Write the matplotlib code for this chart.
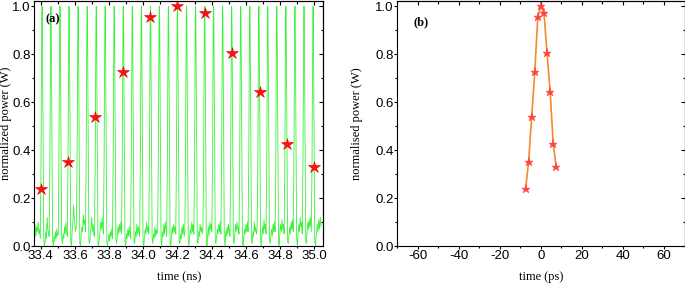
import numpy as np
import matplotlib.pyplot as plt
from matplotlib.ticker import MultipleLocator

plt.rcParams['axes.unicode_minus'] = False

# sampled pulse shape, panel (b): offset from peak (ps) and normalised power
samp_t = [-7.5, -6.0, -4.5, -3.0, -1.5, 0.0, 1.5, 3.0, 4.5, 6.0, 7.5]
samp_p = [0.236, 0.350, 0.540, 0.726, 0.957, 1.0, 0.971, 0.804, 0.643, 0.424, 0.331]

# sampling instants marked with stars in (a) (ns)
star_t = [33.40, 33.56, 33.72, 33.88, 34.04, 34.20, 34.36, 34.52, 34.68, 34.84, 35.00]

# pulse peaks of the train in (a) (ns)
peak_t = [33.408, 33.460, 33.513, 33.566, 33.619, 33.672, 33.725, 33.777,
          33.830, 33.883, 33.936, 33.989, 34.042, 34.094, 34.147, 34.200,
          34.253, 34.306, 34.359, 34.411, 34.464, 34.517, 34.570, 34.623,
          34.676, 34.728, 34.781, 34.834, 34.887, 34.940, 34.993]

# noisy floor between pulses, one list per gap (first = before the first pulse, last = after the last)
floor = [
    [0.05, 0.09, 0.04, 0.08, 0.06, 0.10, 0.05, 0.07, 0.03],
    [0.03, 0.00, 0.02, 0.06, 0.03, 0.12, 0.07, 0.05, 0.04],
    [0.02, 0.00, 0.04, 0.02, 0.06, 0.03, 0.07, 0.04, 0.05],
    [0.03, 0.01, 0.05, 0.03, 0.08, 0.05, 0.10, 0.06, 0.04],
    [0.02, 0.00, 0.06, 0.10, 0.17, 0.12, 0.08, 0.06, 0.09],
    [0.01, 0.00, 0.05, 0.08, 0.06, 0.13, 0.09, 0.11, 0.06],
    [0.02, 0.01, 0.04, 0.08, 0.12, 0.06, 0.09, 0.05, 0.04],
    [0.01, 0.00, 0.03, 0.06, 0.10, 0.07, 0.12, 0.08, 0.05],
    [0.02, 0.00, 0.03, 0.05, 0.02, 0.06, 0.04, 0.07, 0.03],
    [0.03, 0.01, 0.04, 0.08, 0.05, 0.09, 0.06, 0.10, 0.05],
    [0.02, 0.00, 0.05, 0.03, 0.07, 0.04, 0.08, 0.05, 0.03],
    [0.02, 0.01, 0.06, 0.04, 0.09, 0.05, 0.08, 0.06, 0.04],
    [0.01, 0.00, 0.04, 0.07, 0.05, 0.10, 0.06, 0.08, 0.05],
    [0.03, 0.01, 0.05, 0.03, 0.08, 0.04, 0.07, 0.05, 0.06],
    [0.02, 0.00, 0.06, 0.04, 0.09, 0.05, 0.10, 0.07, 0.04],
    [0.01, 0.00, 0.04, 0.08, 0.05, 0.09, 0.06, 0.08, 0.05],
    [0.02, 0.01, 0.05, 0.03, 0.08, 0.05, 0.09, 0.04, 0.06],
    [0.03, 0.00, 0.04, 0.07, 0.05, 0.10, 0.06, 0.09, 0.05],
    [0.02, 0.01, 0.06, 0.04, 0.09, 0.06, 0.08, 0.05, 0.07],
    [0.01, 0.00, 0.05, 0.08, 0.04, 0.10, 0.07, 0.09, 0.06],
    [0.02, 0.01, 0.04, 0.07, 0.05, 0.09, 0.06, 0.10, 0.05],
    [0.03, 0.00, 0.06, 0.04, 0.08, 0.05, 0.09, 0.06, 0.04],
    [0.02, 0.01, 0.05, 0.09, 0.06, 0.10, 0.07, 0.08, 0.05],
    [0.01, 0.00, 0.04, 0.07, 0.05, 0.09, 0.06, 0.10, 0.06],
    [0.02, 0.01, 0.06, 0.04, 0.10, 0.06, 0.08, 0.05, 0.07],
    [0.03, 0.00, 0.05, 0.08, 0.05, 0.11, 0.07, 0.09, 0.05],
    [0.02, 0.01, 0.04, 0.07, 0.04, 0.09, 0.06, 0.10, 0.06],
    [0.01, 0.00, 0.06, 0.09, 0.06, 0.11, 0.07, 0.09, 0.05],
    [0.02, 0.01, 0.05, 0.08, 0.05, 0.10, 0.07, 0.11, 0.06],
    [0.03, 0.00, 0.05, 0.09, 0.06, 0.12, 0.08, 0.10, 0.05],
    [0.02, 0.01, 0.06, 0.10, 0.07, 0.11, 0.08, 0.12, 0.06],
    [0.02, 0.00, 0.05, 0.09, 0.06, 0.11, 0.07, 0.12, 0.08],
]

xl_a = (33.363, 35.053)
t_end = 35.040

# assemble the train: floor samples, then the pulse shape around each peak
shape = np.array(samp_t) * 1e-3
tr_t, tr_p = [], []
for k, p in enumerate(peak_t):
    t0 = peak_t[k - 1] + 0.010 if k else xl_a[0]
    tr_t += list(np.linspace(t0, p - 0.010, len(floor[k])))
    tr_p += floor[k]
    tr_t += list(p + shape)
    tr_p += samp_p
tr_t += list(np.linspace(peak_t[-1] + 0.010, t_end, len(floor[-1])))
tr_p += floor[-1]

# star values in (a) are the same samples
star_p = samp_p

tick_font = {'family': 'Liberation Sans', 'size': 9.5}
lab_font = {'family': 'Liberation Serif', 'size': 9}


def style(ax, xmaj, xmin):
    ax.set_ylim(0, 1.022)
    ax.yaxis.set_major_locator(MultipleLocator(0.2))
    ax.yaxis.set_minor_locator(MultipleLocator(0.1))
    ax.xaxis.set_major_locator(MultipleLocator(xmaj))
    ax.xaxis.set_minor_locator(MultipleLocator(xmin))
    ax.yaxis.set_major_formatter(plt.FormatStrFormatter('%.1f'))
    ax.tick_params(which='both', direction='out', width=0.8, colors='black')
    ax.tick_params(which='major', length=2.2, pad=0.4)
    ax.tick_params(which='minor', length=1.4)
    for lab in ax.get_xticklabels() + ax.get_yticklabels():
        lab.set_fontfamily(tick_font['family'])
        lab.set_fontsize(tick_font['size'])
    for s in ax.spines.values():
        s.set_linewidth(0.8)
    # mirrored ticks on top / right, pointing inwards
    top = ax.secondary_xaxis('top')
    top.xaxis.set_major_locator(MultipleLocator(xmaj))
    top.xaxis.set_minor_locator(MultipleLocator(xmin))
    top.tick_params(which='both', direction='in', labeltop=False, width=0.8)
    top.tick_params(which='major', length=3)
    top.tick_params(which='minor', length=1.8)
    right = ax.secondary_yaxis('right')
    right.yaxis.set_major_locator(MultipleLocator(0.2))
    right.yaxis.set_minor_locator(MultipleLocator(0.1))
    right.tick_params(which='both', direction='in', labelright=False, width=0.8)
    right.tick_params(which='major', length=3)
    right.tick_params(which='minor', length=1.8)


fig = plt.figure(figsize=(6.85, 2.85), dpi=100)
ax1 = fig.add_axes([0.0501, 0.1368, 0.4219, 0.8596])
ax2 = fig.add_axes([0.5800, 0.1368, 0.4193, 0.8596])

# (a) pulse train
ax1.plot(tr_t, tr_p, color='#3af23a', lw=0.6)
ax1.plot(star_t, star_p, ls='none', marker='*', ms=9, color='#ff1010',
         markeredgecolor='#e00000', markeredgewidth=0.4)
ax1.set_xlim(*xl_a)
style(ax1, 0.2, 0.1)
ax1.xaxis.set_major_formatter(plt.FormatStrFormatter('%.1f'))
for lab in ax1.get_xticklabels():
    lab.set_fontfamily(tick_font['family'])
    lab.set_fontsize(tick_font['size'])
ax1.set_xlabel('time (ns)', fontdict=lab_font, labelpad=7)
ax1.set_ylabel('normalized power (W)', fontdict=lab_font)
ax1.yaxis.set_label_coords(-0.077, 0.5)
ax1.text(0.04, 0.915, '(a)', transform=ax1.transAxes, fontfamily='Liberation Serif',
         fontsize=9, fontweight='bold')

# (b) reconstructed pulse
ax2.plot(samp_t, samp_p, color='#f28a2e', lw=1.2)
ax2.plot(samp_t, samp_p, ls='none', marker='*', ms=6.5, color='#ff3b3b',
         markeredgecolor='#ff3b3b', markeredgewidth=0.3, alpha=0.9)
ax2.set_xlim(-70, 70)
style(ax2, 20, 10)
ax2.set_xlabel('time (ps)', fontdict=lab_font, labelpad=7)
ax2.set_ylabel('normalised power (W)', fontdict=lab_font)
ax2.yaxis.set_label_coords(-0.118, 0.5)
ax2.text(0.055, 0.9, '(b)', transform=ax2.transAxes, fontfamily='Liberation Serif',
         fontsize=9, fontweight='bold')

fig.savefig('out.png', dpi=100)
